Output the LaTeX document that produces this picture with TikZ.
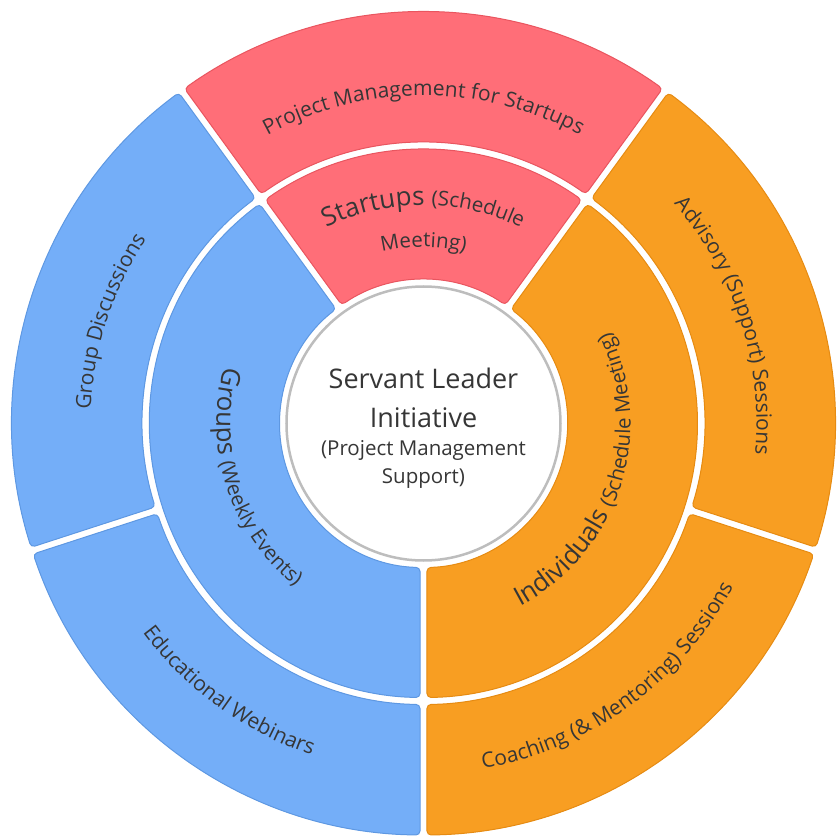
\documentclass[tikz,border=0pt]{standalone}
\usepackage{fontspec}
\setmainfont{Open Sans}
\usetikzlibrary{decorations.text}
\definecolor{redF}{HTML}{FF6E78}
\definecolor{redD}{HTML}{E9555F}
\definecolor{blueF}{HTML}{74AEF8}
\definecolor{blueD}{HTML}{5E98E2}
\definecolor{orF}{HTML}{F89E22}
\definecolor{orD}{HTML}{E68B12}
\definecolor{tcol}{HTML}{363636}
\definecolor{ringgray}{HTML}{BDBDBD}
\newcommand\fsBig{\fontsize{26}{30}\selectfont}
\newcommand\fsHub{\fontsize{27}{31}\selectfont}
\newcommand\fsSmall{\fontsize{20.5}{24}\selectfont}
\newcommand\fsOut{\fontsize{21}{25}\selectfont}
\newcommand\gapw{3.5}
% #1 start angle, #2 end angle (ccw), #3 inner radius, #4 outer radius, #5 fill, #6 border
\newcommand\ringsector[6]{%
  \pgfmathsetmacro\dIn{asin(\gapw/#3)}%
  \pgfmathsetmacro\dOut{asin(\gapw/#4)}%
  \pgfmathsetmacro\aS{#1+\dOut}\pgfmathsetmacro\aE{#2-\dOut}%
  \pgfmathsetmacro\bS{#2-\dIn}\pgfmathsetmacro\bE{#1+\dIn}%
  \filldraw[sectorstyle, fill=#5, draw=#6]
    (\aS:#4) arc[start angle=\aS, end angle=\aE, radius=#4]
    -- (\bS:#3) arc[start angle=\bS, end angle=\bE, radius=#3] -- cycle;
}
\tikzset{
  sectorstyle/.style={line width=1pt, rounded corners=4pt},
  arctext/.style={decorate, decoration={text along path, text align=center,
      text color=tcol, text={#1}}},
  hubtext/.style={anchor=base, text=tcol, inner sep=0pt},
}
\begin{document}
\begin{tikzpicture}[x=1pt,y=1pt]
\useasboundingbox (-423.5,-414.5) rectangle (414.5,423.5);
% inner ring
\ringsector{54}{126}{144}{274}{redF}{redD}
\ringsector{126}{270}{144}{274}{blueF}{blueD}
\ringsector{-90}{54}{144}{274}{orF}{orD}
% outer ring
\ringsector{54}{126}{281}{411.5}{redF}{redD}
\ringsector{126}{198}{281}{411.5}{blueF}{blueD}
\ringsector{198}{270}{281}{411.5}{blueF}{blueD}
\ringsector{-18}{54}{281}{411.5}{orF}{orD}
\ringsector{-90}{-18}{281}{411.5}{orF}{orD}
% hub
\node[circle, minimum size=274pt, fill=white, draw=ringgray, line width=2.5pt, inner sep=0pt] (hub) at (0,0) {};
\node[hubtext, font=\fsHub] (hubA) at (0,35.5) {Servant Leader};
\node[hubtext, font=\fsHub] (hubB) at (0,-3.5) {Initiative};
\node[hubtext, font=\fsSmall] (hubC) at (0,-31.5) {(Project Management};
\node[hubtext, font=\fsSmall] (hubD) at (0,-59.5) {Support)};
% inner ring labels
\path[arctext={|\fsBig|Startups |\fsSmall|(Schedule}] (126:218.5) arc[start angle=126, end angle=54, radius=218.5];
\path[arctext={|\fsSmall|Meeting)}] (126:176.5) arc[start angle=126, end angle=54, radius=176.5];
\path[arctext={|\fsBig|Groups |\fsSmall|(Weekly Events)}] (126:207) arc[start angle=126, end angle=270, radius=207];
\path[arctext={|\fsBig|Individuals |\fsSmall|(Schedule Meeting)}] (-90:207) arc[start angle=-90, end angle=54, radius=207];
% outer ring labels
\path[arctext={|\fsOut|Project Management for Startups}] (126:328) arc[start angle=126, end angle=54, radius=328];
\path[arctext={|\fsOut|Group Discussions}] (198:333) arc[start angle=198, end angle=126, radius=333];
\path[arctext={|\fsOut|Advisory (Support) Sessions}] (54:333) arc[start angle=54, end angle=-18, radius=333];
\path[arctext={|\fsOut|Educational Webinars}] (198:350) arc[start angle=198, end angle=270, radius=350];
\path[arctext={|\fsOut|Coaching ({\&} Mentoring) Sessions}] (-90:350) arc[start angle=-90, end angle=-18, radius=350];
\end{tikzpicture}
\end{document}
